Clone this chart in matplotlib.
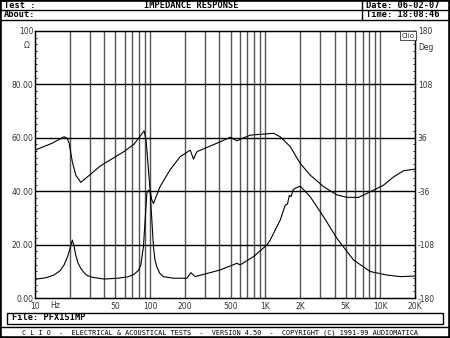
#Impedance response (CLIO style)

import numpy as np
import matplotlib.pyplot as plt
from matplotlib.lines import Line2D
from matplotlib.patches import Rectangle

#Impedance magnitude (ohm) vs frequency (Hz)
imp_freq = [10, 12.5, 14.6, 16.5, 17.9, 19.2, 20.3, 21.1, 21.8, 22.6, 23.6, 25.0,
            26.8, 28.5, 32, 39.8, 52.0, 64, 72.6, 79, 83.0, 87.5,
            90.5, 93.6, 96.7, 100, 103.5, 106.9, 110, 114.3, 121, 130.5, 159.5, 208.5, 226,
            246, 406, 567, 606, 791, 1035, 1105, 1350, 1493, 1560, 1620, 1680,
            1750, 1824, 2015, 2462, 3214, 4200, 5860, 8185, 11430, 14930, 19490, 20000]
imp_ohm = [7.0, 7.6, 8.6, 10.2, 12.4, 15.5, 19.0, 21.7, 19.5, 16.1, 13.2, 11.1,
           9.4, 8.4, 7.7, 7.1, 7.4, 7.9, 8.9, 10.3, 12.4, 19.2,
           29.2, 39.2, 40.4, 39.8, 29.2, 19.2, 14.5, 11.7, 9.3, 8.0, 7.4, 7.4, 9.5,
           8.0, 10.5, 13.0, 12.4, 15.5, 19.9, 21.7, 29.2, 34.8, 35.2, 38.4, 38.0,
           40.6, 41.1, 41.9, 37.9, 30.4, 22.3, 14.2, 9.9, 8.6, 8.0, 8.2, 8.2]

#Phase (deg) vs frequency (Hz)
ph_freq = [10, 14, 17.9, 19.0, 19.8, 21.1, 22.6, 25.0, 37.3, 59.4, 72.6, 88.7, 92.2, 96.7,
           100, 103.5, 106.9, 122, 149, 182, 223, 238, 255, 406, 496, 567, 741,
           1181, 1350, 1649, 2015, 2462, 3214, 4200, 5130, 6475, 8185, 10690,
           13060, 15950, 19490, 20000]
ph_deg = [19.4, 28.5, 37.4, 35.5, 28.8, 3.6, -14.4, -24.1, -1.5, 17.5, 27.5, 45.4, 33.1, -7.2,
          -34.6, -47.9, -52.6, -29.9, -7.2, 10.4, 19.4, 7.2, 17.3, 30.6, 36.7, 32.0, 39.6,
          42.1, 37.4, 24.1, 1.4, -14.4, -29.9, -41.0, -44.3, -44.3, -36.7, -27.7,
          -16.6, -8.3, -6.5, -6.1]

#Axis labels
x_ticks = [10, 50, 100, 200, 500, 1000, 2000, 5000, 10000, 20000]
x_labels = ["10", "50", "100", "200", "500", "1K", "2K", "5K", "10K", "20K"]
y_ticks = [0, 20, 40, 60, 80, 100]
y_labels = ["0.00", "20.00", "40.00", "60.00", "80.00", "100"]
ph_ticks = [-180, -108, -36, 36, 108, 180]

W, H = 450, 338
fig = plt.figure(figsize=(4.5, 3.38), dpi=100)
fig.patch.set_facecolor('white')

def px(x, y):
    return x / W, 1 - y / H

ax = fig.add_axes([35 / W, 1 - 298 / H, 380 / W, 267 / H])
ax.set_xscale('log')
ax.set_xlim(10, 20000)
ax.set_ylim(0, 100)

#Grid: grey verticals, black horizontals
vlines = [20, 30, 40, 50, 60, 70, 80, 90,
          100, 200, 300, 400, 500, 600, 700, 800, 900,
          1000, 2000, 3000, 4000, 5000, 6000, 7000, 8000, 9000, 10000]
for v in vlines:
    ax.axvline(v, color='#555555', linewidth=1.0, zorder=1)
for h in [20, 40, 60, 80]:
    ax.axhline(h, color='black', linewidth=1.0, zorder=1)

ax.plot(imp_freq, imp_ohm, color='black', linewidth=0.8, zorder=3)

ax.set_xticks(x_ticks)
ax.set_xticklabels(x_labels)
ax.xaxis.set_minor_locator(plt.NullLocator())
ax.tick_params(axis='x', length=0, pad=3, labelsize=5.5, labelcolor='#333333')
ax.set_yticks(y_ticks)
ax.set_yticklabels(y_labels)
ax.set_yticks(np.arange(0, 101, 2.5), minor=True)
ax.tick_params(axis='y', which='major', length=0, pad=1, labelsize=5.5, labelcolor='#333333')
ax.tick_params(axis='y', which='minor', direction='in', length=1.5, width=0.6)
for s in ax.spines.values():
    s.set_linewidth(1.0)

ax2 = ax.twinx()
ax2.set_ylim(-180, 180)
ax2.plot(ph_freq, ph_deg, color='black', linewidth=0.8, zorder=3)
ax2.set_yticks(ph_ticks)
ax2.set_yticklabels([str(t) for t in ph_ticks])
ax2.set_yticks(np.arange(-180, 181, 9), minor=True)
ax2.tick_params(axis='y', which='major', length=0, pad=2, labelsize=5.5, labelcolor='#333333')
ax2.tick_params(axis='y', which='minor', direction='in', length=1.5, width=0.6)

#Unit labels
fig.text(*px(55, 305), "Hz", fontsize=5.5, color='#333333', ha='center', va='center')
fig.text(*px(27, 46), "\u03a9", fontsize=5.5, color='#333333', ha='center', va='center')
fig.text(*px(426, 47), "Deg", fontsize=5.5, color='#333333', ha='center', va='center')
fig.text(*px(408, 35.5), "Clio", fontsize=5, color='#333333', ha='center', va='center',
         bbox=dict(boxstyle='square,pad=0.2', fc='white', ec='#333333', lw=0.6))

#Header
mono = dict(family='DejaVu Sans Mono', fontweight='bold', fontsize=6.2, va='center')
fig.text(*px(4, 6.0), "Test :", ha='left', **mono)
fig.text(*px(191, 6.0), "IMPEDANCE RESPONSE", ha='center', **mono)
fig.text(*px(4, 14.8), "About:", ha='left', **mono)
fig.text(*px(366, 6.0), "Date: 06-02-07", ha='left', **mono)
fig.text(*px(366, 14.8), "Time: 18:08:46", ha='left', **mono)

def fline(x0, y0, x1, y1, lw=1.0):
    a = px(x0, y0)
    b = px(x1, y1)
    fig.add_artist(Line2D([a[0], b[0]], [a[1], b[1]], color='black', linewidth=lw))

fline(0, 10, 450, 10)
fline(0, 19.5, 450, 19.5)
fline(362, 0, 362, 19.5)

#Footer
fig.add_artist(Rectangle(px(7, 323.5), 436 / W, 11 / H, fill=False, ec='black', lw=1.0))
fig.text(*px(12, 318), "File: PFX15IMP", ha='left', **mono)
fline(0, 327, 450, 327)
fig.text(*px(220, 332.5),
         "C L I O  -  ELECTRICAL & ACOUSTICAL TESTS  -  VERSION 4.50  -  COPYRIGHT (C) 1991-99 AUDIOMATICA",
         ha='center', va='center', family='DejaVu Sans Mono', fontsize=4.95)

#Outer frame
fig.add_artist(Rectangle((0, 0), 1, 1, fill=False, ec='black', lw=2.6))

fig.savefig('out.png', dpi=100)
